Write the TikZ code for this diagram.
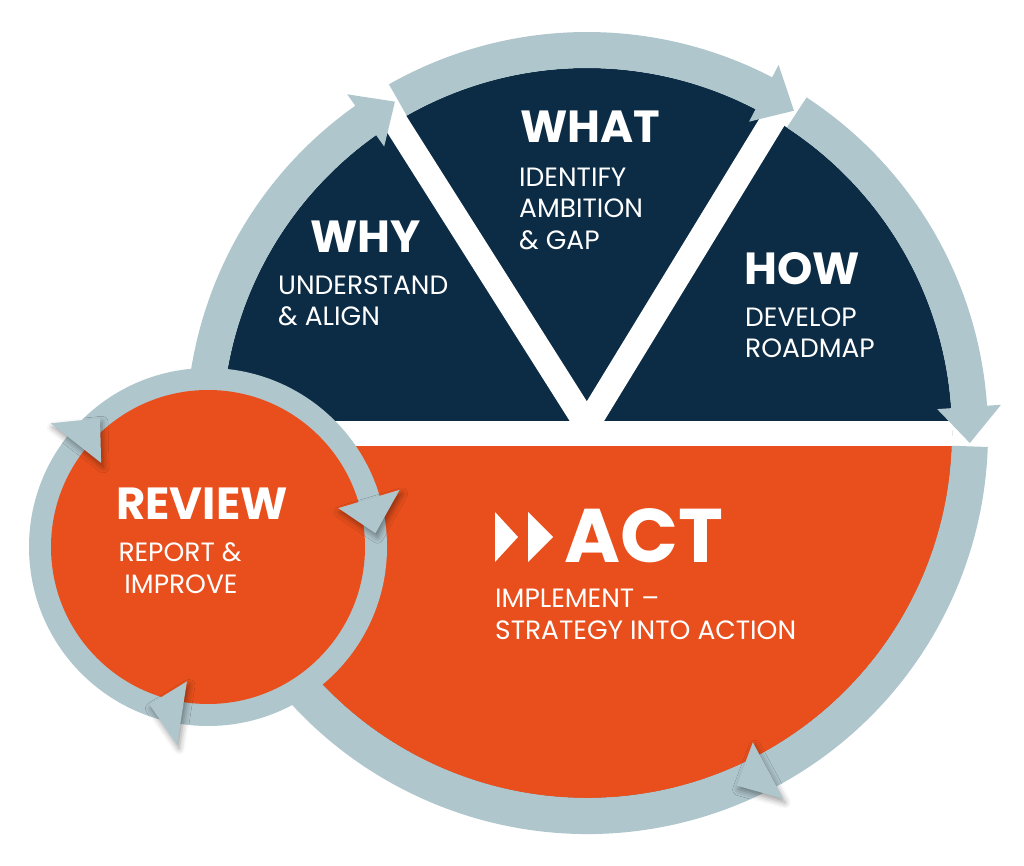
\documentclass[tikz,border=0pt]{standalone}
\usepackage{fontspec}
\setmainfont{Poppins}
\usetikzlibrary{calc,shadows.blur}
\definecolor{navy}{HTML}{0C2C45}
\definecolor{orng}{HTML}{E84F1C}
\definecolor{ringc}{HTML}{AFC6CD}
\begin{document}
\begin{tikzpicture}[x=1pt,y=1pt,
  ring/.style={fill=ringc},
  shd/.style={blur shadow={shadow xshift=2pt,shadow yshift=-4pt,shadow blur radius=6pt,shadow opacity=40}},
  hd/.style={text=white,inner sep=0pt,anchor=base west,font=\bfseries\fontsize{45}{45}\selectfont},
  sb/.style={text=white,inner sep=0pt,anchor=base west,font=\fontsize{26.5}{26.5}\selectfont}]
\useasboundingbox (0,0) rectangle (1024,866);
\coordinate (C) at (587,433);
\coordinate (S) at (208,319);
% big disk
\fill[navy] (C) circle[radius=365];
\begin{scope}
  \clip (C) circle[radius=365];
  \fill[orng] (0,0) rectangle (1024,420);
  \fill[white] (0,420) rectangle (1024,445);
\end{scope}
% white V dividers
\coordinate (V) at (587,441);
\coordinate (VL) at (315,871);
\coordinate (VR) at (841,857);
\draw[white,line width=25pt,shorten <=-12pt] (V) -- (VL);
\draw[white,line width=25pt,shorten <=-12pt] (V) -- (VR);
% big ring segments
\fill[ring,shift={(587,433)}] (-63:401) arc[start angle=-63,end angle=-234.7,radius=401]
  -- (-234.7:415) -- (-239.9:383) -- (-234.7:351) -- (-234.7:365)
  arc[start angle=-234.7,end angle=-63,radius=365] -- cycle;
\fill[ring,shift={(587,433)}] (119.6:401) arc[start angle=119.6,end angle=62.5,radius=401]
  -- (62.5:415) -- (57.3:383) -- (62.5:351) -- (62.5:365)
  arc[start angle=62.5,end angle=119.6,radius=365] -- cycle;
\fill[ring,shift={(587,433)}] (56.8:401) arc[start angle=56.8,end angle=3.9,radius=401]
  -- (3.9:415) -- (-1.5:383) -- (3.9:351) -- (3.9:365)
  arc[start angle=3.9,end angle=56.8,radius=365] -- cycle;
\fill[ring,shift={(587,433)}] (-2:401) arc[start angle=-2,end angle=-63,radius=401]
  -- (-63:365) arc[start angle=-63,end angle=-2,radius=365] -- cycle;
\fill[ring,shd,shift={(587,433)}] (-61.8:415) -- (-67:383) -- (-61.8:351) -- cycle;
% small review circle
\fill[ringc] (S) circle[radius=179];
\fill[orng] (S) circle[radius=157];
\fill[ring,shd,shift={(208,319)}] (141.8:200) -- (130:168) -- (141.8:136) -- cycle;
\fill[ring,shd,shift={(208,319)}] (16.6:200) -- (4.7:168) -- (16.6:136) -- cycle;
\fill[ring,shd,shift={(208,319)}] (-98.9:200) -- (-110.4:168) -- (-98.9:136) -- cycle;
% texts
\node[hd] (why) at (310,613) {WHY};
\node[sb] (why1) at (278,571) {UNDERSTAND};
\node[sb] (why2) at (278,540) {\& ALIGN};
\node[hd] (what) at (520,723) {WHAT};
\node[sb] (what1) at (519,679) {IDENTIFY};
\node[sb] (what2) at (519,648) {AMBITION};
\node[sb] (what3) at (519,616) {\& GAP};
\node[hd] (how) at (744,581) {HOW};
\node[sb] (how1) at (745,539) {DEVELOP};
\node[sb] (how2) at (745,508) {ROADMAP};
\node[hd] (rev) at (116,346) {REVIEW};
\node[sb,anchor=base] (rev1) at (180,304) {REPORT \&};
\node[sb,anchor=base] (rev2) at (181,272) {IMPROVE};
\node[hd,font=\bfseries\fontsize{76}{76}\selectfont] (act) at (564,303) {ACT};
\fill[white] (495,354) -- (518,329) -- (495,304) -- cycle;
\fill[white] (528,354) -- (553,329) -- (528,304) -- cycle;
\node[sb] (act1) at (495,258) {IMPLEMENT –};
\node[sb] (act2) at (495,226) {STRATEGY INTO ACTION};
\end{tikzpicture}
\end{document}
